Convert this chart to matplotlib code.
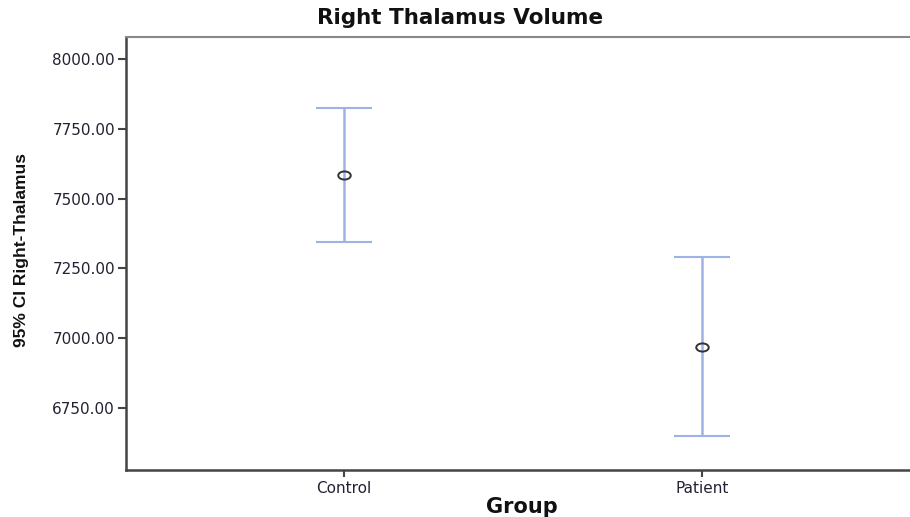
import numpy as np
import matplotlib.pyplot as plt
from matplotlib.path import Path
from matplotlib.transforms import Affine2D

groups = ['Control', 'Patient']
means = [7584, 6970]
ci_low = [7345, 6650]
ci_high = [7824, 7292]
y_ticks = [6750, 7000, 7250, 7500, 7750, 8000]

x = np.arange(len(groups))
means = np.array(means)
yerr = [means - np.array(ci_low), np.array(ci_high) - means]

# flattened circle, like in the original export
ellipse = Path.unit_circle().transformed(Affine2D().scale(1.0, 0.65))

fig = plt.figure(figsize=(9.1, 5.17), dpi=100)
ax = fig.add_axes([126 / 910, 1 - 470 / 517, 1 - 126 / 910, (470 - 37) / 517])

ax.errorbar(x, means, yerr=yerr, fmt='none', ecolor='#9fb2e6',
            elinewidth=1.8, capsize=20, capthick=1.5)
ax.plot(x, means, marker=ellipse, ls='none', mfc='none', mec='#333333', ms=9, mew=1.4)

ax.set_xlim(-0.609, 1.581)
ax.set_ylim(6528, 8079)
ax.set_xticks(x)
ax.set_xticklabels(groups)
ax.set_yticks(y_ticks)
ax.set_yticklabels(['%.2f' % v for v in y_ticks])

for side in ['left', 'bottom']:
    ax.spines[side].set_color('#444444')
    ax.spines[side].set_linewidth(1.8)
ax.spines['top'].set_color('#888888')
ax.spines['top'].set_linewidth(1.5)
ax.spines['right'].set_visible(False)

ax.tick_params(axis='y', length=6, width=1.5, color='#444444',
               labelsize=11, labelcolor='#222233', pad=2)
ax.tick_params(axis='x', length=5, width=1.5, color='#444444',
               labelsize=11, labelcolor='#222233', pad=3)

fig.text(460 / 910, 1 - 18 / 517, 'Right Thalamus Volume', ha='center', va='center',
         fontsize=15.5, fontweight='bold', color='#111111')
fig.text(522 / 910, 1 - 507 / 517, 'Group', ha='center', va='center',
         fontsize=15, fontweight='bold', color='#111111')
fig.text(22 / 910, 1 - 250 / 517, '95% CI Right-Thalamus', ha='center', va='center',
         rotation=90, fontsize=12.5, fontweight='bold',
         color='#111111', family=['Liberation Sans', 'DejaVu Sans'])

fig.savefig('out.png', dpi=100)
